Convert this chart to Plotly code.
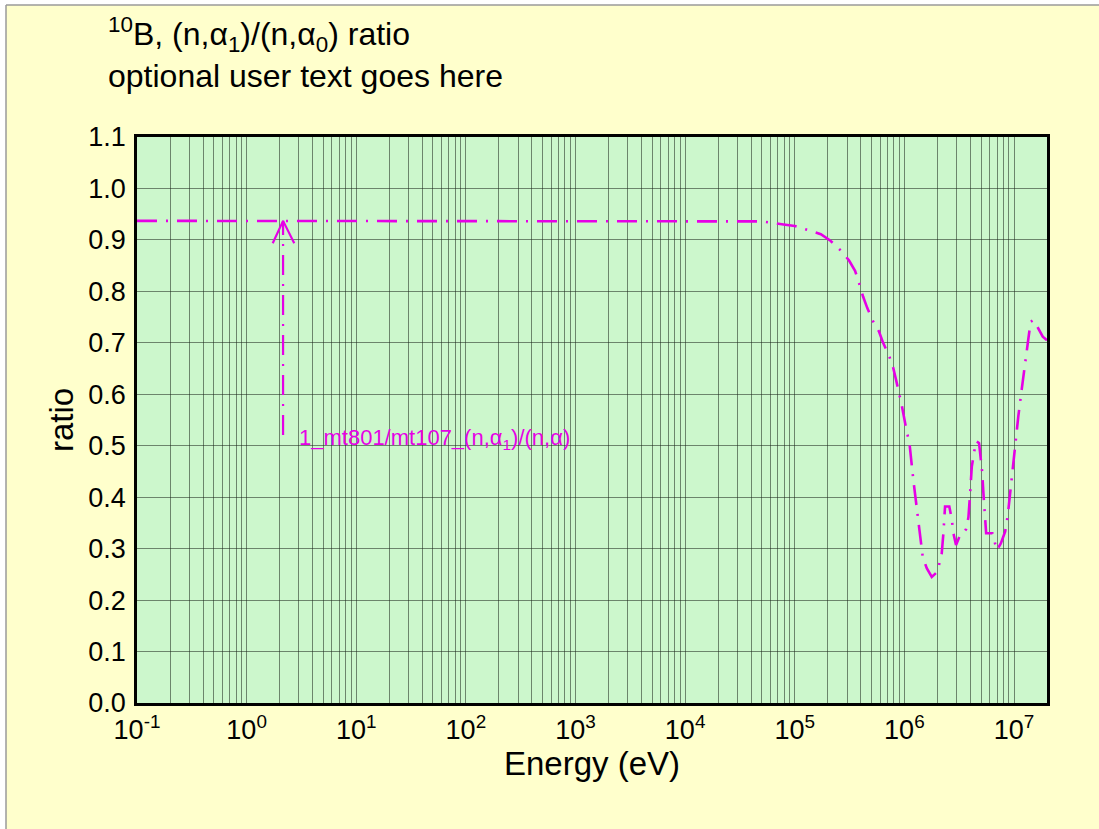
import numpy as np
import plotly.graph_objects as go

# (n,alpha1)/(n,alpha0) branching ratio for B-10 vs incident energy
energy_ev = [0.1, 1.0, 10.0, 100.0, 1.0e3, 1.0e4, 3.0e4, 5.0e4, 7.9e4, 1.0e5,
             1.37e5, 1.73e5, 2.1e5, 2.7e5, 3.13e5, 3.55e5, 3.94e5, 4.2e5, 4.6e5,
             5.2e5, 5.87e5, 6.4e5, 7.3e5, 7.9e5, 8.4e5, 9.46e5, 1.052e6, 1.11e6,
             1.208e6, 1.342e6, 1.472e6, 1.6e6, 1.778e6, 2.0e6, 2.19e6, 2.27e6,
             2.35e6, 2.57e6, 2.71e6, 2.8e6, 2.96e6, 3.18e6, 3.41e6, 3.66e6,
             3.84e6, 3.98e6, 4.12e6, 4.33e6, 4.54e6, 4.8e6, 4.98e6, 5.12e6,
             5.26e6, 5.42e6, 5.57e6, 6.35e6, 6.97e6, 7.58e6, 8.3e6, 8.78e6,
             9.21e6, 9.67e6, 1.0e7, 1.04e7, 1.096e7, 1.18e7, 1.22e7, 1.29e7,
             1.35e7, 1.42e7, 1.5e7, 1.635e7, 1.83e7, 2.0e7]
ratio = [0.937, 0.937, 0.937, 0.937, 0.937, 0.937, 0.937, 0.936, 0.930, 0.927,
         0.918, 0.911, 0.899, 0.877, 0.860, 0.840, 0.810, 0.790, 0.767,
         0.741, 0.722, 0.700, 0.673, 0.652, 0.628, 0.579, 0.527, 0.507,
         0.433, 0.357, 0.283, 0.262, 0.245, 0.255, 0.290, 0.330,
         0.382, 0.382, 0.356, 0.330, 0.307, 0.323, 0.328, 0.338,
         0.361, 0.408, 0.459, 0.488, 0.509, 0.505, 0.472, 0.450,
         0.408, 0.352, 0.330, 0.330, 0.297, 0.310, 0.333, 0.365,
         0.408, 0.456, 0.484, 0.511, 0.558, 0.612, 0.634, 0.667,
         0.707, 0.741, 0.744, 0.731, 0.712, 0.705]

# pointer from the curve down to the label
pointer_energy = 2.15
pointer_ratio = [0.521, 0.937]
arrow_head_energy = [1.73, 2.15, 2.72]
arrow_head_ratio = [0.8935, 0.937, 0.8935]
curve_label = "1_mt801/mt107_(n,α<sub>1</sub>)/(n,α)"

title_lines = ["<sup>10</sup>B, (n,α<sub>1</sub>)/(n,α<sub>0</sub>) ratio",
               "optional user text goes here"]

# axis ticks
decades = list(range(-1, 8))
x_tickvals = [m * 10.0 ** d for d in decades for m in range(1, 10) if m * 10.0 ** d <= 2.0e7]
x_ticktext = [f"10<sup>{d}</sup>" if m == 1 else "" for d in decades for m in range(1, 10)
              if m * 10.0 ** d <= 2.0e7]
y_tickvals = [round(0.1 * i, 1) for i in range(12)]

MAGENTA = "#e600e6"
FONT = "Liberation Sans, Arial, Helvetica, sans-serif"
DASHDOT = "20px,9px,2px,9px"

W, H = 1099, 829
L, R, T, B = 137, 52, 137, 126
pw, ph = W - L - R, H - T - B


def px_x(p):
    return (p - L) / pw


def px_y(p):
    return (H - B - p) / ph


fig = go.Figure()
fig.add_trace(go.Scatter(x=energy_ev, y=ratio, mode="lines",
                         line=dict(color=MAGENTA, width=2.6, dash=DASHDOT),
                         hoverinfo="skip", showlegend=False))
fig.add_trace(go.Scatter(x=[pointer_energy, pointer_energy], y=pointer_ratio, mode="lines",
                         line=dict(color=MAGENTA, width=2.2, dash=DASHDOT),
                         hoverinfo="skip", showlegend=False))
fig.add_trace(go.Scatter(x=arrow_head_energy, y=arrow_head_ratio, mode="lines",
                         line=dict(color=MAGENTA, width=2.2),
                         hoverinfo="skip", showlegend=False))

fig.add_annotation(x=np.log10(2.9), y=0.513, xref="x", yref="y",
                   text=curve_label, showarrow=False, xanchor="left", yanchor="middle",
                   font=dict(family=FONT, size=22, color=MAGENTA))

fig.add_annotation(x=px_x(106), y=px_y(10), xref="paper", yref="paper",
                   text="<br>".join(title_lines), showarrow=False,
                   xanchor="left", yanchor="top", align="left",
                   font=dict(family=FONT, size=32, color="black"))

# page frame: white outside margin with grey edge at top and left
fig.add_shape(type="rect", xref="paper", yref="paper", x0=px_x(-20), x1=px_x(6),
              y0=px_y(H + 20), y1=px_y(-20), fillcolor="white", line_width=0, layer="below")
fig.add_shape(type="rect", xref="paper", yref="paper", x0=px_x(-20), x1=px_x(W + 20),
              y0=px_y(5), y1=px_y(-20), fillcolor="white", line_width=0, layer="below")
fig.add_shape(type="line", xref="paper", yref="paper", x0=px_x(6), x1=px_x(W + 20),
              y0=px_y(5), y1=px_y(5), line=dict(color="#9a9a9a", width=1.5))
fig.add_shape(type="line", xref="paper", yref="paper", x0=px_x(6), x1=px_x(6),
              y0=px_y(5), y1=px_y(H + 20), line=dict(color="#9a9a9a", width=1.5))

fig.update_xaxes(type="log", range=[-1, np.log10(2.0e7)],
                 tickvals=x_tickvals, ticktext=x_ticktext,
                 ticks="outside", ticklen=1, tickcolor="rgba(0,0,0,0)",
                 tickfont=dict(family=FONT, size=27, color="black"),
                 showgrid=True, gridcolor="rgba(30,40,30,0.55)", gridwidth=1.2,
                 showline=True, linecolor="black", linewidth=2.5, mirror=True,
                 zeroline=False,
                 title=dict(text="Energy (eV)", standoff=7,
                            font=dict(family=FONT, size=33, color="black")))
fig.update_yaxes(range=[0, 1.1], tickvals=y_tickvals, tickformat=".1f",
                 ticks="outside", ticklen=3, tickcolor="rgba(0,0,0,0)",
                 tickfont=dict(family=FONT, size=27, color="black"),
                 showgrid=True, gridcolor="rgba(30,40,30,0.55)", gridwidth=1.2,
                 showline=True, linecolor="black", linewidth=2.5, mirror=True,
                 zeroline=False,
                 title=dict(text="ratio", standoff=5,
                            font=dict(family=FONT, size=33, color="black")))

fig.update_layout(width=W, height=H, autosize=False,
                  margin=dict(l=L, r=R, t=T, b=B, pad=0),
                  paper_bgcolor="#ffffcc", plot_bgcolor="#ccf7cc",
                  font=dict(family=FONT, color="black"),
                  showlegend=False)

fig.write_html("out.html")
